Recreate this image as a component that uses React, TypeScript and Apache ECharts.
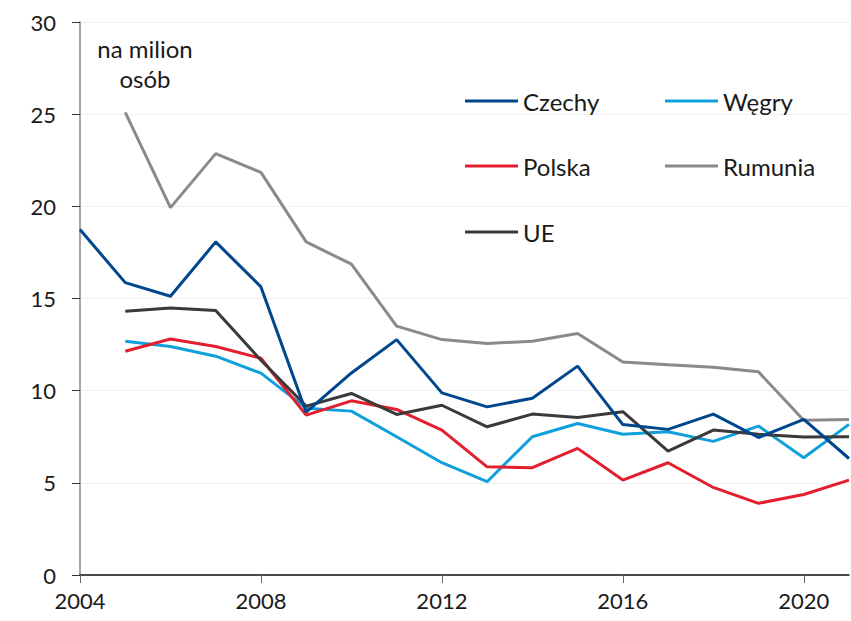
import React, { useEffect, useRef } from "react";
import * as echarts from "echarts";

const years = ["2004","2005","2006","2007","2008","2009","2010","2011","2012","2013","2014","2015","2016","2017","2018","2019","2020","2021"];
const czechy = [18.74, 15.86, 15.12, 18.07, 15.63, 8.83, 10.96, 12.77, 9.88, 9.12, 9.59, 11.33, 8.16, 7.9, 8.73, 7.46, 8.44, 6.32];
const wegry = [null, 12.68, 12.4, 11.87, 10.95, 9.05, 8.89, 7.5, 6.09, 5.06, 7.5, 8.22, 7.64, 7.77, 7.25, 8.08, 6.36, 8.17];
const polska = [null, 12.14, 12.8, 12.4, 11.76, 8.67, 9.45, 8.98, 7.86, 5.87, 5.82, 6.87, 5.15, 6.09, 4.75, 3.89, 4.37, 5.15];
const rumunia = [null, 25.1, 19.93, 22.86, 21.84, 18.07, 16.86, 13.5, 12.77, 12.56, 12.68, 13.1, 11.55, 11.4, 11.27, 11.02, 8.4, 8.44];
const ue = [null, 14.31, 14.49, 14.35, 11.65, 9.16, 9.85, 8.71, 9.21, 8.04, 8.73, 8.55, 8.86, 6.72, 7.86, 7.64, 7.48, 7.5];
const yTicks = [0, 5, 10, 15, 20, 25, 30];

const FONT = "Lato";
const colors: Record<string, string> = {
  Czechy: "#00468c",
  "Węgry": "#0fa0dc",
  Polska: "#e31e2d",
  Rumunia: "#8a8a8a",
  UE: "#3a3a3a",
};

export default function App() {
  const ref = useRef<HTMLDivElement>(null);
  useEffect(() => {
    const chart = echarts.init(ref.current!, null, { renderer: "svg" });
    const mk = (name: string, data: (number | null)[]) => ({
      name,
      type: "line",
      data,
      showSymbol: false,
      symbol: "none",
      lineStyle: { width: 3, color: colors[name] },
      itemStyle: { color: colors[name] },
    });
    const legendAt = (name: string, left: number, top: number) => ({
      data: [name],
      left,
      top,
      padding: 0,
      itemWidth: 53,
      itemHeight: 3,
      itemGap: 5,
      icon: "rect",
      textStyle: { fontFamily: FONT, fontSize: 24, color: "#1a1a1a", padding: [0, 0, 0, 0] },
    });
    chart.setOption({
      animation: false,
      backgroundColor: "#ffffff",
      grid: { left: 80, right: 2, top: 22, bottom: 46 },
      legend: [
        legendAt("Czechy", 465, 89),
        legendAt("Węgry", 665, 89),
        legendAt("Polska", 465, 154),
        legendAt("Rumunia", 665, 154),
        legendAt("UE", 465, 220),
      ],
      xAxis: {
        type: "category",
        data: years,
        boundaryGap: false,
        axisLine: { lineStyle: { color: "#111", width: 1.5 } },
        axisTick: { interval: 3, length: 8, lineStyle: { color: "#666" } },
        axisLabel: { interval: 3, fontFamily: FONT, fontSize: 22, color: "#1a1a1a", margin: 14 },
        splitLine: { show: false },
      },
      yAxis: {
        type: "value",
        min: yTicks[0],
        max: yTicks[yTicks.length - 1],
        interval: 5,
        axisLine: { show: true, lineStyle: { color: "#888", width: 1.5 } },
        axisTick: { show: true, inside: false, length: 8, lineStyle: { color: "#333" } },
        axisLabel: { fontFamily: FONT, fontSize: 22, color: "#1a1a1a", margin: 24 },
        splitLine: { show: true, lineStyle: { color: "#f0f0f0", width: 1 } },
      },
      graphic: [
        {
          type: "text",
          x: 145,
          y: 33,
          style: {
            text: "na milion\nosób",
            fontFamily: FONT,
            fontSize: 24,
            lineHeight: 30,
            fill: "#1a1a1a",
            align: "center",
            verticalAlign: "top",
          },
        },
      ],
      series: [
        mk("Rumunia", rumunia),
        mk("Węgry", wegry),
        mk("Polska", polska),
        mk("UE", ue),
        mk("Czechy", czechy),
      ],
    });
    return () => chart.dispose();
  }, []);
  return <div ref={ref} style={{ width: 851, height: 621, position: "absolute", left: 0, top: 0 }} />;
}
